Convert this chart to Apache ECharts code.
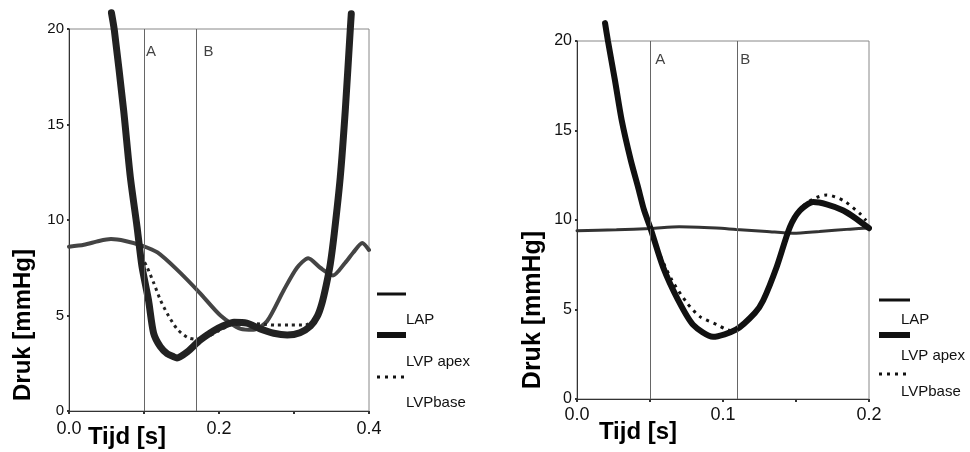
<!DOCTYPE html>
<html><head><meta charset="utf-8">
<script src="https://cdn.jsdelivr.net/npm/echarts@6/dist/echarts.min.js"></script>
<style>html,body{margin:0;padding:0;background:#fff}#c{width:970px;height:452px}</style>
</head><body><div id="c"></div>
<script>
// ---- Left panel (0 - 0.4 s) ----
var lapL_t = [0, 0.02, 0.04, 0.056, 0.075, 0.098, 0.118, 0.144, 0.174, 0.202, 0.229, 0.246, 0.264, 0.286, 0.304, 0.319, 0.335, 0.352, 0.368, 0.379, 0.391, 0.4];
var lapL_v = [8.6, 8.7, 8.9, 9.0, 8.9, 8.65, 8.3, 7.4, 6.2, 5.0, 4.3, 4.25, 4.7, 6.3, 7.5, 8.0, 7.5, 7.1, 7.75, 8.3, 8.8, 8.43];
var apexL_t = [0.0566, 0.0604, 0.0728, 0.0817, 0.0907, 0.0972, 0.106, 0.1128, 0.1217, 0.131, 0.1395, 0.144, 0.158, 0.1745, 0.193, 0.205, 0.22, 0.237, 0.255, 0.273, 0.291, 0.308, 0.322, 0.331, 0.337, 0.343, 0.3484, 0.3537, 0.3617, 0.3684, 0.375, 0.3764];
var apexL_v = [20.85, 19.95, 15.76, 12.27, 9.65, 7.6, 5.8, 4.08, 3.37, 3.0, 2.84, 2.78, 3.1, 3.7, 4.2, 4.45, 4.65, 4.6, 4.3, 4.07, 3.98, 4.1, 4.45, 4.95, 5.6, 6.6, 7.7, 9.3, 12.25, 15.76, 19.95, 20.8];
var baseL_t = [0.0566, 0.0604, 0.0728, 0.0817, 0.0907, 0.0972, 0.1045, 0.113, 0.122, 0.131, 0.144, 0.158, 0.171, 0.185, 0.2, 0.215, 0.235, 0.255, 0.275, 0.295, 0.315, 0.326, 0.337, 0.343, 0.3484, 0.3537, 0.3617, 0.3684, 0.375, 0.3764];
var baseL_v = [20.85, 19.95, 15.76, 12.27, 9.65, 8.1, 7.5, 6.7, 5.8, 5.1, 4.3, 3.85, 3.75, 3.9, 4.2, 4.5, 4.6, 4.55, 4.5, 4.5, 4.5, 4.75, 5.6, 6.6, 7.7, 9.3, 12.25, 15.76, 19.95, 20.8];
var markL = [0.0972, 0.174];

// ---- Right panel (0 - 0.2 s) ----
var lapR_t = [0, 0.027, 0.0505, 0.07, 0.0955, 0.109, 0.13, 0.148, 0.166, 0.187, 0.2];
var lapR_v = [9.4, 9.45, 9.52, 9.62, 9.55, 9.47, 9.36, 9.26, 9.36, 9.49, 9.55];
var apexR_t = [0.0192, 0.0212, 0.026, 0.0306, 0.0368, 0.0418, 0.0459, 0.0505, 0.0589, 0.0692, 0.0795, 0.0932, 0.1089, 0.1219, 0.1275, 0.1367, 0.1458, 0.1527, 0.1618, 0.171, 0.1824, 0.1915, 0.2];
var apexR_v = [21.0, 20.0, 17.8, 15.58, 13.35, 11.84, 10.56, 9.5, 7.38, 5.54, 4.15, 3.48, 3.87, 4.81, 5.5, 7.36, 9.6, 10.53, 11.0, 10.87, 10.53, 10.06, 9.54];
var baseR_t = [0.0192, 0.0212, 0.026, 0.0306, 0.0368, 0.0418, 0.0459, 0.0505, 0.0555, 0.065, 0.0753, 0.0842, 0.0959, 0.1014, 0.106, 0.1219, 0.1275, 0.1367, 0.1458, 0.1527, 0.1618, 0.171, 0.1824, 0.194, 0.198];
var baseR_v = [21.0, 20.0, 17.8, 15.58, 13.35, 11.84, 10.56, 9.5, 8.3, 6.64, 5.37, 4.6, 4.15, 3.92, 3.8, 4.81, 5.5, 7.36, 9.6, 10.62, 11.18, 11.4, 11.09, 10.34, 9.97];
var markR = [0.0509, 0.109];

var markLabels = ['A', 'B'];
var yTicks = [0, 5, 10, 15, 20];
var seriesNames = ['LAP', 'LVP apex', 'LVPbase'];
var yTitle = 'Druk [mmHg]';
var xTitle = 'Tijd [s]';

function zip(t, v) { return t.map(function (x, i) { return [x, v[i]]; }); }

var FONT = 'Liberation Sans, Arial, sans-serif';

function xAxis(idx, max, interval) {
  return {
    type: 'value', gridIndex: idx, min: 0, max: max, interval: interval,
    axisLine: { lineStyle: { color: '#333', width: 1 } },
    axisTick: { show: true, length: 3, lineStyle: { color: '#333', width: 2 } },
    axisLabel: {
      color: '#111', fontSize: 18, fontFamily: FONT, margin: idx === 0 ? 9 : 7,
      formatter: function (v) {
        var k = Math.round(v / interval);
        return (k % 2 === 0) ? v.toFixed(1) : '';
      }
    },
    splitLine: { show: false }
  };
}
function yAxis(idx, fs) {
  return {
    type: 'value', gridIndex: idx, min: yTicks[0], max: yTicks[yTicks.length - 1], interval: 5,
    axisLine: { show: true, lineStyle: { color: '#333', width: 1 } },
    axisTick: { show: true, length: 2, lineStyle: { color: '#333', width: 2 } },
    axisLabel: { color: '#111', fontSize: fs, fontFamily: FONT, margin: 5 },
    splitLine: { show: false }
  };
}
function markSeries(xi, yi, vals) {
  return {
    type: 'line', xAxisIndex: xi, yAxisIndex: yi, data: [], silent: true,
    markLine: {
      symbol: 'none', silent: true, animation: false,
      label: { show: false },
      lineStyle: { color: '#666', width: 1, type: 'solid' },
      data: vals.map(function (v) { return { xAxis: v }; })
    }
  };
}
function labelSeries(xi, yi, vals, yv) {
  return {
    type: 'scatter', xAxisIndex: xi, yAxisIndex: yi, symbolSize: 0, silent: true,
    data: vals.map(function (v, i) { return { value: [v, yv], name: markLabels[i] }; }),
    label: { show: true, position: 'right', distance: 4, formatter: '{b}', color: '#111', fontSize: 15, fontFamily: FONT }
  };
}
function lineSeries(xi, yi, data, color, width, type, z) {
  return {
    type: 'line', xAxisIndex: xi, yAxisIndex: yi, data: data, smooth: 0.25,
    showSymbol: false, clip: false, z: z, animation: false,
    lineStyle: { color: color, width: width, type: type, cap: type === 'solid' ? 'round' : 'butt' }
  };
}

function legend(x0, x1, ys, ty, tx) {
  var els = [];
  var styles = [
    { w: 3, dash: null },
    { w: 6, dash: null },
    { w: 3, dash: [3, 5] }
  ];
  for (var i = 0; i < 3; i++) {
    els.push({
      type: 'line', shape: { x1: x0, y1: ys[i], x2: x1, y2: ys[i] },
      style: { stroke: '#111', lineWidth: styles[i].w, lineDash: styles[i].dash }
    });
    els.push({
      type: 'text', x: tx, y: ty[i],
      style: { text: seriesNames[i], fill: '#111', font: '15px ' + FONT, textVerticalAlign: 'middle' }
    });
  }
  return els;
}

var chart = echarts.init(document.getElementById('c'));
var graphics = [];
graphics = graphics.concat(legend(377, 406, [294, 335, 377], [320, 362, 403], 406));
graphics = graphics.concat(legend(879, 910, [300, 335, 374], [320, 356, 392], 901));
graphics.push(
  { type: 'text', x: 23, y: 325, rotation: Math.PI / 2, style: { text: yTitle, fill: '#000', font: 'bold 24px ' + FONT, textAlign: 'center', textVerticalAlign: 'middle' } },
  { type: 'text', x: 127, y: 437, style: { text: xTitle, fill: '#000', font: 'bold 24px ' + FONT, textAlign: 'center', textVerticalAlign: 'middle' } },
  { type: 'text', x: 533, y: 310, rotation: Math.PI / 2, style: { text: yTitle, fill: '#000', font: 'bold 25px ' + FONT, textAlign: 'center', textVerticalAlign: 'middle' } },
  { type: 'text', x: 638, y: 432, style: { text: xTitle, fill: '#000', font: 'bold 24px ' + FONT, textAlign: 'center', textVerticalAlign: 'middle' } }
);

chart.setOption({
  animation: false,
  backgroundColor: '#fff',
  grid: [
    { left: 69, top: 29, width: 300, height: 382, show: true, borderColor: '#888', borderWidth: 1 },
    { left: 577, top: 41, width: 292, height: 358, show: true, borderColor: '#888', borderWidth: 1 }
  ],
  xAxis: [xAxis(0, 0.4, 0.1), xAxis(1, 0.2, 0.05)],
  yAxis: [yAxis(0, 15), yAxis(1, 16)],
  series: [
    markSeries(0, 0, markL),
    labelSeries(0, 0, markL, 18.8),
    lineSeries(0, 0, zip(lapL_t, lapL_v), '#444', 4, 'solid', 3),
    lineSeries(0, 0, zip(apexL_t, apexL_v), '#222', 7, 'solid', 4),
    lineSeries(0, 0, zip(baseL_t, baseL_v), '#222', 3, [3, 4], 5),
    markSeries(1, 1, markR),
    labelSeries(1, 1, markR, 18.95),
    lineSeries(1, 1, zip(lapR_t, lapR_v), '#333', 3, 'solid', 3),
    lineSeries(1, 1, zip(apexR_t, apexR_v), '#111', 6, 'solid', 4),
    lineSeries(1, 1, zip(baseR_t, baseR_v), '#111', 3, [3, 5], 5)
  ],
  graphic: graphics
});
</script></body></html>
